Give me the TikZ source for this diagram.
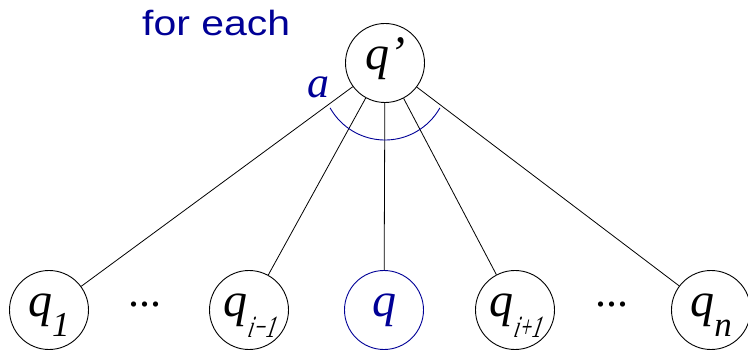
\documentclass[tikz,border=0pt]{standalone}
\usepackage{fontspec}
\setmainfont{Liberation Serif}
\newfontfamily\labsans[FakeStretch=1.17]{Liberation Sans}
\newfontfamily\narrowsub[FakeStretch=0.62, FakeSlant=0.22]{Liberation Serif}
\definecolor{navy}{RGB}{0,0,150}
\newcommand{\qsub}[1]{q\raisebox{-0.42em}[0pt][0pt]{\fontsize{35}{35}\selectfont #1}}
\newcommand{\qnsub}[1]{q\raisebox{-0.45em}[0pt][0pt]{\fontsize{31}{31}\narrowsub #1}}
\begin{document}
\begin{tikzpicture}[x=1pt,y=-1pt,
  st/.style={draw, circle, line width=0.9pt, minimum size=79pt, inner sep=0pt,
    font=\fontsize{48}{48}\selectfont\itshape},
  edge/.style={line width=0.8pt},
  dotsx/.style={anchor=base, inner sep=0pt, font=\fontsize{44}{44}\selectfont}]
\useasboundingbox (0,0) rectangle (748,350);
\node[st] (qp) at (385,63) {q\smash{’}};
\node[st] (q1) at (49,310) {\qsub{1}};
\node[st] (qim) at (249,310) {\qnsub{i−1}};
\node[st, draw=navy, text=navy] (q) at (384,310) {q};
\node[st] (qip) at (515,310) {\qnsub{i+1}};
\node[st] (qn) at (711,310) {\qsub{n}};
\node[dotsx] (d1) at (145,306) {...};
\node[dotsx] (d2) at (612,306) {...};
\foreach \t in {q1,qim,q,qip,qn} \draw[edge] (qp) -- (\t);
\coordinate (arcc) at (385,77);
\draw[navy, line width=0.9pt] ([shift={(150.6:63)}]arcc) arc[start angle=150.6, end angle=29.4, radius=63];
\node[text=navy, font=\fontsize{44}{44}\selectfont\itshape] (a) at (318,87) {a};
\node[anchor=base west, text=navy, inner sep=0pt, font=\fontsize{35}{35}\selectfont\labsans] (fe) at (142,36) {for each};
\end{tikzpicture}
\end{document}
